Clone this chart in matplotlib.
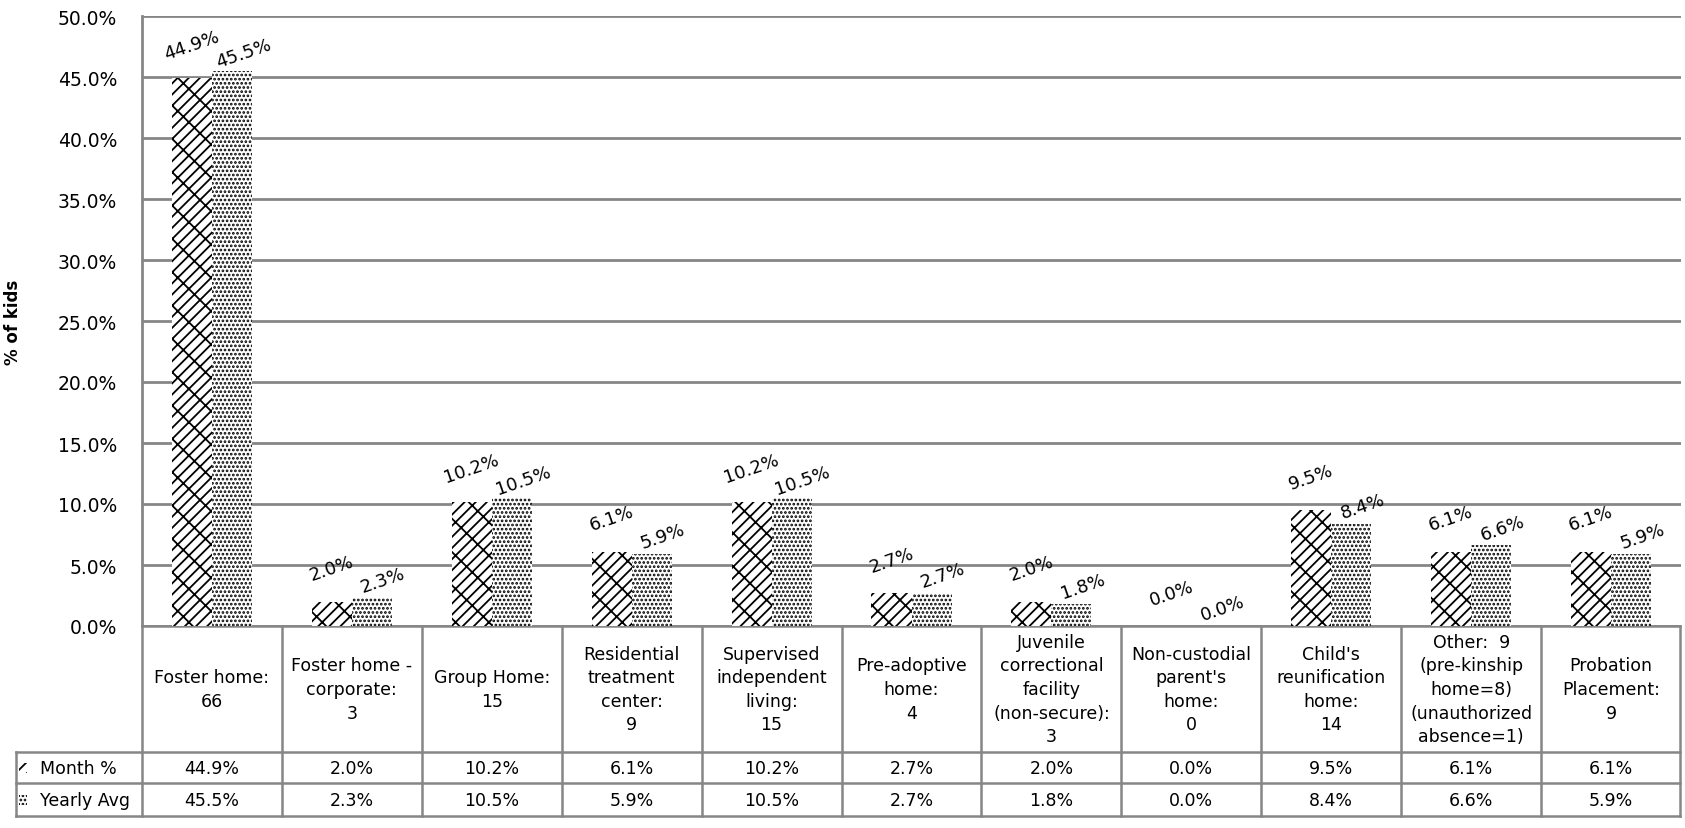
import matplotlib
matplotlib.use("Agg")
import matplotlib.pyplot as plt
from matplotlib.patches import Rectangle
from matplotlib.lines import Line2D

# categorias de colocacao (texto da tabela) e valores das duas series
categorias = [
    "Foster home:\n66",
    "Foster home -\ncorporate:\n3",
    "Group Home:\n15",
    "Residential\ntreatment\ncenter:\n9",
    "Supervised\nindependent\nliving:\n15",
    "Pre-adoptive\nhome:\n4",
    "Juvenile\ncorrectional\nfacility\n(non-secure):\n3",
    "Non-custodial\nparent's\nhome:\n0",
    "Child's\nreunification\nhome:\n14",
    "Other:  9\n(pre-kinship\nhome=8)\n(unauthorized\nabsence=1)",
    "Probation\nPlacement:\n9",
]
mes_pct = [44.9, 2.0, 10.2, 6.1, 10.2, 2.7, 2.0, 0.0, 9.5, 6.1, 6.1]
media_anual = [45.5, 2.3, 10.5, 5.9, 10.5, 2.7, 1.8, 0.0, 8.4, 6.6, 5.9]
series = ["Month %", "Yearly Avg"]
y_ticks = [0, 5, 10, 15, 20, 25, 30, 35, 40, 45, 50]

plt.rcParams["font.family"] = ["DejaVu Sans"]
plt.rcParams["hatch.linewidth"] = 1.3

CINZA = "#868686"
HATCH_MES = "//x"
HATCH_ANO = "...."
FS_TAB = 12.5
W, H = 1685, 829
fig = plt.figure(figsize=(W / 100, H / 100), dpi=100)

# area do grafico em pixels
esq, dir_, topo, base = 142, 1681, 17, 627
ax = fig.add_axes([esq / W, 1 - base / H, (dir_ - esq) / W, (base - topo) / H])

n = len(categorias)
larg = 0.286
xs = list(range(n))
x_mes = [x - larg / 2 for x in xs]
x_ano = [x + larg / 2 for x in xs]

ax.bar(x_mes, mes_pct, width=larg, color="white", edgecolor="black",
       linewidth=0, hatch=HATCH_MES, zorder=3)
ax.bar(x_ano, media_anual, width=larg, color="white", edgecolor="black",
       linewidth=0, hatch=HATCH_ANO, zorder=3)

# rotulos de valor inclinados
for x, v in zip(x_mes, mes_pct):
    ax.annotate(f"{v:.1f}%", (x, v), xytext=(0, 24), textcoords="offset points",
                ha="center", va="center", rotation=19, fontsize=13, zorder=5)
for x, v in zip(x_ano, media_anual):
    ax.annotate(f"{v:.1f}%", (x, v), xytext=(8, 13), textcoords="offset points",
                ha="center", va="center", rotation=19, fontsize=13, zorder=5)

ax.set_xlim(-0.5, n - 0.5)
ax.set_ylim(0, 50)
ax.set_yticks(y_ticks)
ax.set_yticklabels([f"{t:.1f}%" for t in y_ticks], fontsize=13.5)
ax.tick_params(axis="y", length=0, pad=18)
ax.set_xticks([])
ax.grid(axis="y", color=CINZA, linewidth=2.0, zorder=0)
for s in ["top", "right", "bottom"]:
    ax.spines[s].set_visible(False)
ax.spines["left"].set_color(CINZA)
ax.spines["left"].set_linewidth(2.0)
ax.set_ylabel("% of kids", fontsize=12, fontweight="bold")
ax.yaxis.set_label_coords(-0.078, 0.5)

# tabela de dados abaixo do eixo (coordenadas em pixels -> eixos)
largura_px = dir_ - esq
altura_px = base - topo


def ax_x(px):
    return (px - esq) / largura_px


def ax_y(py):
    return (base - py) / altura_px


linhas_y = [627, 753, 784, 817]
tab_dir = 1680
leg_esq = 16
col_w = largura_px / n


def linha(x0, x1, y0, y1):
    ax.add_line(Line2D([x0, x1], [y0, y1], transform=ax.transAxes, color=CINZA,
                       linewidth=1.8, clip_on=False, zorder=1))


linha(ax_x(esq), ax_x(tab_dir), ax_y(627), ax_y(627))
for yy in linhas_y[1:]:
    linha(ax_x(leg_esq), ax_x(tab_dir), ax_y(yy), ax_y(yy))
linha(ax_x(leg_esq), ax_x(leg_esq), ax_y(753), ax_y(817))
linha(ax_x(esq), ax_x(esq), ax_y(627), ax_y(817))
for i in range(1, n + 1):
    xp = min(esq + i * col_w, tab_dir)
    linha(ax_x(xp), ax_x(xp), ax_y(627), ax_y(817))

for i, cat in enumerate(categorias):
    cx = (i + 0.5) / n
    ax.text(cx, ax_y(690), cat, transform=ax.transAxes, ha="center", va="center",
            fontsize=FS_TAB, linespacing=1.4, clip_on=False)
    ax.text(cx, ax_y(769), f"{mes_pct[i]:.1f}%", transform=ax.transAxes,
            ha="center", va="center", fontsize=FS_TAB, clip_on=False)
    ax.text(cx, ax_y(801), f"{media_anual[i]:.1f}%", transform=ax.transAxes,
            ha="center", va="center", fontsize=FS_TAB, clip_on=False)

# chaves da legenda na coluna da esquerda
for nome, hatch, ymid in zip(series, [HATCH_MES, HATCH_ANO], [769, 801]):
    ax.add_patch(Rectangle((ax_x(19), ax_y(ymid + 5)), 8 / largura_px, 10 / altura_px,
                           transform=ax.transAxes, facecolor="white", edgecolor="black",
                           linewidth=0, hatch=hatch, clip_on=False))
    ax.text(ax_x(40), ax_y(ymid), nome, transform=ax.transAxes, ha="left",
            va="center", fontsize=FS_TAB, clip_on=False)

fig.savefig("out.png", dpi=100)
